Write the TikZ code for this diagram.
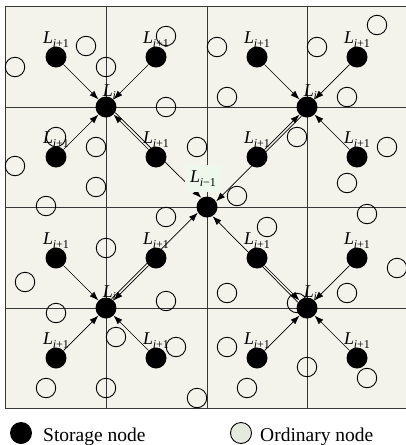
\documentclass[tikz,border=0pt]{standalone}
\usepackage{fontspec}
\setmainfont{Liberation Serif}
\usetikzlibrary{arrows.meta,calc}
\definecolor{gridbg}{RGB}{243,242,235}
\definecolor{gridln}{RGB}{55,55,55}
\definecolor{lblbg}{RGB}{238,247,236}
\definecolor{legfill}{RGB}{230,233,222}
\newcommand\Lab[1]{\textit{L}\kern-0.3pt\raisebox{-0.45ex}{\fontsize{12}{12}\selectfont #1}}
\tikzset{
  stor/.style={circle, fill=black, inner sep=0pt, minimum size=21pt},
  ord/.style={circle, draw=black, line width=0.9pt, inner sep=0pt, minimum size=19.5pt},
  arr/.style={-{Latex[length=9pt,width=6.5pt]}, line width=0.7pt},
  lbl/.style={inner sep=0pt, anchor=base, font=\fontsize{18}{18}\selectfont},
  legtxt/.style={inner sep=0pt, anchor=base west, font=\fontsize{19.5}{19.5}\selectfont}
}
\begin{document}
\begin{tikzpicture}[x=1pt,y=-1pt]
\useasboundingbox (0,0) rectangle (405,445);
\fill[white] (0,0) rectangle (405,445);
% grid
\fill[gridbg] (5,6) rectangle (412,408);
\draw[gridln, line width=1pt] (5,6) rectangle (412,408);
\foreach \x in {106,207,307} \draw[gridln, line width=1pt] (\x,6) -- (\x,408);
\foreach \y in {107,207,308} \draw[gridln, line width=1pt] (5,\y) -- (412,\y);
% ordinary nodes
\foreach \p [count=\k] in {(86,46),(15,67),(106,67),(166,36),(166,107),(56,137),(96,147),(15,166),(197,147),(96,187),(46,206),
  (217,47),(227,97),(317,47),(377,25),(347,97),(297,137),(387,147),(347,183),(237,196),(367,214),
  (166,217),(106,248),(25,282),(166,301),(56,313),(116,337),(176,347),(46,388),(106,388),(197,398),
  (267,227),(397,268),(227,293),(347,293),(297,303),(227,347),(307,367),(367,378),(247,388)}
  \node[ord] (o\k) at \p {};
% storage nodes
\node[stor] (A) at (106,107) {};
\node[stor] (B) at (307,107) {};
\node[stor] (C) at (106,308) {};
\node[stor] (D) at (307,308) {};
\node[stor] (M) at (207,207) {};
\node[stor] (A1) at (56,57) {};
\node[stor] (A2) at (156,57) {};
\node[stor] (A3) at (56,157) {};
\node[stor] (A4) at (156,157) {};
\node[stor] (B1) at (257,57) {};
\node[stor] (B2) at (357,57) {};
\node[stor] (B3) at (257,157) {};
\node[stor] (B4) at (357,157) {};
\node[stor] (C1) at (56,258) {};
\node[stor] (C2) at (156,258) {};
\node[stor] (C3) at (56,358) {};
\node[stor] (C4) at (156,358) {};
\node[stor] (D1) at (257,258) {};
\node[stor] (D2) at (357,258) {};
\node[stor] (D3) at (257,358) {};
\node[stor] (D4) at (357,358) {};
% arrows L_{i+1} -> L_i
\foreach \q in {A,B,C,D}
  \foreach \n in {1,2,3,4}
    \draw[arr] (\q\n) -- (\q);
% arrows L_i -> L_{i-1}, slightly offset
\foreach \q in {A,B,C,D}
  \draw[arr, shorten <=10.5pt, shorten >=10.5pt]
    ($(\q.center)!2.5pt!90:(M.center)$) -- ($(M.center)!2.5pt!-90:(\q.center)$);
% labels
\foreach \n in {A1,A2,A3,A4,B1,B2,B3,B4,C1,C2,C3,C4,D1,D2,D3,D4}
  \node[lbl] (t\n) at ($(\n.center)+(0,-13.5)$) {\Lab{\textit{i}+1}};
\foreach \q in {A,B,C,D}
  \node[lbl] (t\q) at ($(\q.center)+(3.5,-11)$) {\Lab{\textit{i}}};
\node[fill=lblbg, minimum width=36pt, minimum height=27pt, inner sep=0pt, font=\fontsize{18}{18}\selectfont] (tM) at (203,178.5) {\Lab{\textit{i}−1}};
% legend
\node[stor, minimum size=22pt] (ls) at (21,433) {};
\node[legtxt] (lst) at (43,441) {Storage node};
\node[ord, fill=legfill, minimum size=21pt] (lo) at (241,433) {};
\node[legtxt] (lot) at (260,441) {Ordinary node};
\end{tikzpicture}
\end{document}
